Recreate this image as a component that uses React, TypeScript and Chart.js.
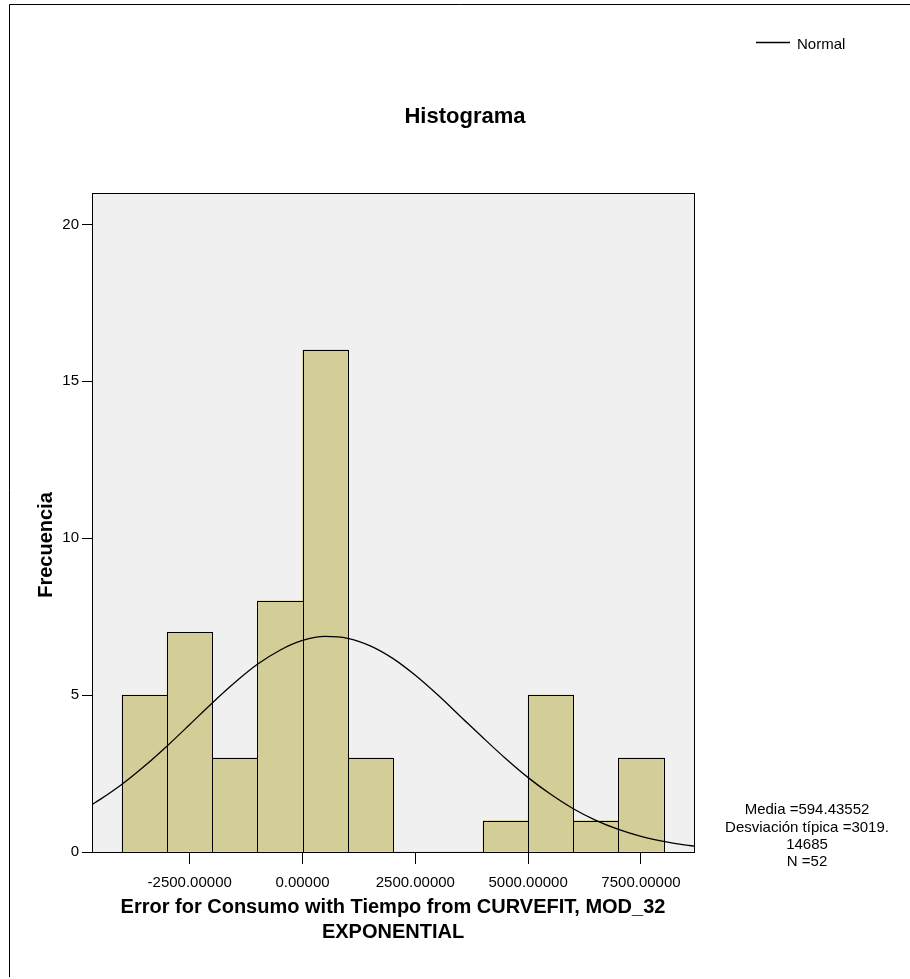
import React, { useEffect, useRef } from 'react';
import { Chart, registerables } from 'chart.js';

Chart.register(...registerables);

// ---- Data ----
const binCenters = [-3500, -2500, -1500, -500, 500, 1500, 2500, 3500, 4500, 5500, 6500, 7500];
const frequencies = [5, 7, 3, 8, 16, 3, 0, 0, 1, 5, 1, 3];

const normalX = [-4665, -4500, -4000, -3500, -3000, -2500, -2000, -1500, -1000, -500, 0, 500, 1000, 1500, 2000, 2500, 3000, 3500, 4000, 4500, 5000, 5500, 6000, 6500, 7000, 7500, 8000, 8500, 8675];
const normalY = [1.51, 1.66, 2.16, 2.74, 3.38, 4.06, 4.75, 5.4, 5.98, 6.43, 6.74, 6.87, 6.81, 6.57, 6.17, 5.63, 5.0, 4.32, 3.64, 2.98, 2.37, 1.84, 1.38, 1.01, 0.72, 0.5, 0.34, 0.22, 0.19];

const xTicks = [-2500, 0, 2500, 5000, 7500];
const yTicks = [0, 5, 10, 15, 20];

const chartTitle = 'Histograma';
const xTitleLines = ['Error for Consumo with Tiempo from CURVEFIT, MOD_32', 'EXPONENTIAL'];
const yTitle = 'Frecuencia';
const legendLabel = 'Normal';
const statsLines = ['Media =594.43552', 'Desviación típica =3019.', '14685', 'N =52'];

const FONT = '"Liberation Sans", Arial, Helvetica, sans-serif';
const BAR_FILL = '#d3ce97';
const PLOT_BG = '#f0f0f0';

const decorPlugin = {
  id: 'decor',
  beforeDraw(chart: any) {
    const { ctx, chartArea, width, height } = chart;
    ctx.save();
    ctx.fillStyle = '#ffffff';
    ctx.fillRect(0, 0, width, height);
    ctx.fillStyle = PLOT_BG;
    ctx.fillRect(chartArea.left, chartArea.top, chartArea.right - chartArea.left, chartArea.bottom - chartArea.top);
    ctx.restore();
  },
  afterDatasetDraw(chart: any, args: any) {
    if (args.meta.type !== 'bar') return;
    const { ctx } = chart;
    ctx.save();
    ctx.strokeStyle = '#000';
    ctx.lineWidth = 1;
    args.meta.data.forEach((el: any) => {
      const p = el.getProps(['x', 'y', 'base', 'width'], true);
      const l = Math.round(p.x - p.width / 2);
      const r = Math.round(p.x + p.width / 2);
      const t = Math.round(p.y);
      const b = Math.round(p.base);
      if (b - t < 1) return;
      ctx.strokeRect(l + 0.5, t + 0.5, r - l, b - t);
    });
    ctx.restore();
  },
  afterDraw(chart: any) {
    const { ctx, chartArea } = chart;
    const { left, right, top, bottom } = chartArea;
    ctx.save();
    // plot frame
    ctx.strokeStyle = '#000';
    ctx.lineWidth = 1;
    ctx.strokeRect(Math.round(left) + 0.5, Math.round(top) + 0.5, Math.round(right - left), Math.round(bottom - top));
    // outer border (top and left)
    ctx.beginPath();
    ctx.moveTo(9.5, 977);
    ctx.lineTo(9.5, 4.5);
    ctx.lineTo(910, 4.5);
    ctx.stroke();

    ctx.fillStyle = '#000';
    // title
    ctx.font = `bold 22px ${FONT}`;
    ctx.textAlign = 'center';
    ctx.textBaseline = 'alphabetic';
    ctx.fillText(chartTitle, 465, 123);

    // x title
    ctx.font = `bold 20px ${FONT}`;
    ctx.textBaseline = 'middle';
    const cx = (left + right) / 2;
    ctx.fillText(xTitleLines[0], cx, 907);
    ctx.fillText(xTitleLines[1], cx, 932);

    // y title
    ctx.save();
    ctx.translate(46, 545);
    ctx.rotate(-Math.PI / 2);
    ctx.fillText(yTitle, 0, 0);
    ctx.restore();

    // legend
    ctx.beginPath();
    ctx.lineWidth = 1.3;
    ctx.moveTo(756, 42.5);
    ctx.lineTo(790, 42.5);
    ctx.stroke();
    ctx.font = `15px ${FONT}`;
    ctx.textAlign = 'left';
    ctx.textBaseline = 'middle';
    ctx.fillText(legendLabel, 797, 45);

    // stats
    ctx.textAlign = 'center';
    const ys = [810, 828, 845, 862];
    statsLines.forEach((s, i) => ctx.fillText(s, 807, ys[i]));
    ctx.restore();
  },
};

export default function App() {
  const ref = useRef<HTMLCanvasElement | null>(null);

  useEffect(() => {
    if (!ref.current) return;
    const chart = new Chart(ref.current, {
      type: 'bar',
      data: {
        datasets: [
          {
            type: 'line',
            label: legendLabel,
            data: normalX.map((x, i) => ({ x, y: normalY[i] })),
            borderColor: '#000',
            borderWidth: 1.3,
            pointRadius: 0,
            cubicInterpolationMode: 'monotone',
            fill: false,
            order: 0,
          } as any,
          {
            type: 'bar',
            label: yTitle,
            data: binCenters.map((x, i) => ({ x, y: frequencies[i] })),
            backgroundColor: BAR_FILL,
            borderWidth: 0,
            barPercentage: 1,
            categoryPercentage: 1,
            order: 1,
          } as any,
        ],
      },
      options: {
        animation: false,
        responsive: false,
        devicePixelRatio: 1,
        layout: { padding: { left: 0, top: 193, right: 216, bottom: 0 } },
        plugins: {
          legend: { display: false },
          tooltip: { enabled: false },
          title: { display: false },
        },
        scales: {
          x: {
            type: 'linear',
            min: -4665,
            max: 8675,
            offset: false,
            afterFit: (s: any) => {
              s.height = 127;
              s.paddingLeft = 0;
              s.paddingRight = 0;
            },
            afterBuildTicks: (s: any) => {
              s.ticks = xTicks.map((v) => ({ value: v }));
            },
            grid: { offset: false, drawOnChartArea: false, drawTicks: true, tickLength: 12, color: '#000', lineWidth: 1 },
            border: { display: true, color: '#000', width: 1 },
            ticks: {
              autoSkip: false,
              maxRotation: 0,
              padding: 10,
              color: '#000',
              font: { family: FONT, size: 15 },
              callback: (v: any) => Number(v).toFixed(5),
            },
          },
          y: {
            type: 'linear',
            min: 0,
            max: 21,
            afterFit: (s: any) => {
              s.width = 92;
            },
            afterBuildTicks: (s: any) => {
              s.ticks = yTicks.map((v) => ({ value: v }));
            },
            grid: { drawOnChartArea: false, drawTicks: true, tickLength: 10, color: '#000', lineWidth: 1 },
            border: { display: true, color: '#000', width: 1 },
            ticks: {
              autoSkip: false,
              padding: 3,
              color: '#000',
              font: { family: FONT, size: 15 },
              callback: (v: any) => String(v),
            },
          },
        },
      } as any,
      plugins: [decorPlugin],
    });
    return () => chart.destroy();
  }, []);

  return (
    <div style={{ position: 'absolute', left: 0, top: 0, width: 910, height: 979, background: '#fff' }}>
      <canvas ref={ref} width={910} height={979} style={{ width: 910, height: 979, display: 'block' }} />
    </div>
  );
}
